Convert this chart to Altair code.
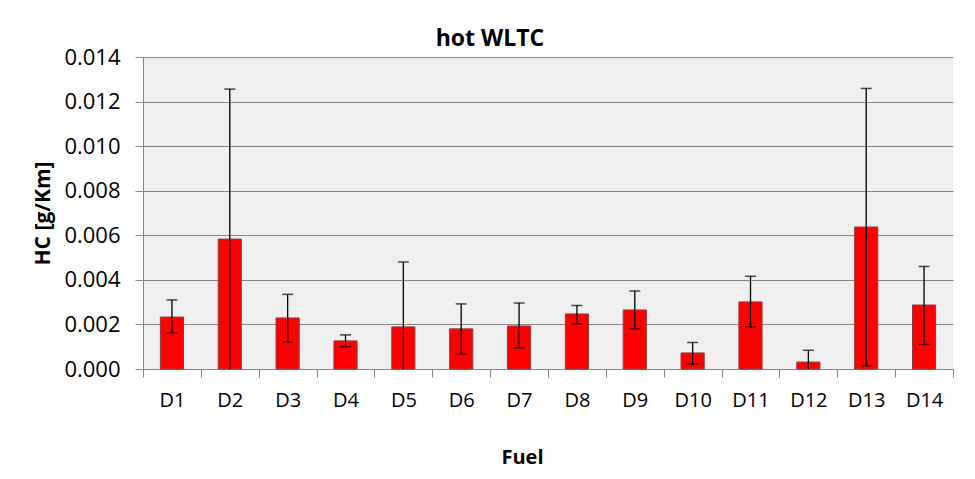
import altair as alt
import pandas as pd

fuels = ["D1", "D2", "D3", "D4", "D5", "D6", "D7", "D8", "D9", "D10", "D11", "D12", "D13", "D14"]
hc = [0.00233, 0.00583, 0.00229, 0.00126, 0.00189, 0.00180, 0.00193,
      0.00247, 0.00265, 0.00072, 0.00301, 0.00031, 0.00637, 0.00287]
err_high = [0.00310, 0.01256, 0.00335, 0.00153, 0.00480, 0.00292, 0.00296,
            0.00285, 0.00350, 0.00119, 0.00416, 0.00084, 0.01259, 0.00460]
err_low = [0.00162, 0.0, 0.00121, 0.00100, 0.0, 0.00067, 0.00094,
           0.00202, 0.00180, 0.00022, 0.00189, 0.0, 0.00014, 0.00110]
y_ticks = [0.0, 0.002, 0.004, 0.006, 0.008, 0.010, 0.012, 0.014]

df = pd.DataFrame({"fuel": fuels, "hc": hc, "hi": err_high, "lo": err_low})

FONT = "Open Sans"
GRAY = "#868686"

x_enc = alt.X(
    "fuel:N",
    sort=fuels,
    scale=alt.Scale(paddingInner=0, paddingOuter=0),
    axis=alt.Axis(
        title="Fuel",
        labelAngle=0,
        labelFont=FONT,
        labelFontSize=20,
        labelColor="black",
        labelBaseline="alphabetic",
        labelPadding=29,
        tickBand="extent",
        tickSize=8,
        tickColor=GRAY,
        domainColor=GRAY,
        grid=False,
        titleFont=FONT,
        titleFontSize=20,
        titleFontWeight="bold",
        titleColor="black",
        titleX=379,
        titleY=94,
        titleBaseline="alphabetic",
        titleAlign="center",
    ),
)

y_scale = alt.Scale(domain=[0, 0.014], nice=False)
y_axis = alt.Axis(
    title="HC [g/Km]",
    values=y_ticks,
    format=".3f",
    labelFont=FONT,
    labelFontSize=22,
    labelColor="black",
    labelPadding=15,
    tickSize=8,
    tickColor=GRAY,
    domainColor=GRAY,
    gridColor=GRAY,
    gridWidth=1,
    titleFont=FONT,
    titleFontSize=21,
    titleFontWeight="bold",
    titleColor="black",
    titleX=-100,
    titleY=156,
    titleBaseline="middle",
    titleAlign="center",
    titleAngle=-90,
)

base = alt.Chart(df)

bars = base.mark_bar(
    color="#FF0000", stroke="#8B3A3A", strokeWidth=1, width={"band": 0.4}
).encode(
    x=x_enc,
    y=alt.Y("hc:Q", scale=y_scale, axis=y_axis),
)

rules = base.mark_rule(color="black", strokeWidth=1.3).encode(
    x=alt.X("fuel:N", sort=fuels),
    y=alt.Y("lo:Q", scale=y_scale),
    y2="hi:Q",
)

cap_hi = base.mark_tick(color="black", thickness=1.5, size=11, orient="horizontal").encode(
    x=alt.X("fuel:N", sort=fuels),
    y=alt.Y("hi:Q", scale=y_scale),
)

cap_lo = base.transform_filter("datum.lo > 0").mark_tick(
    color="black", thickness=1.5, size=11, orient="horizontal"
).encode(
    x=alt.X("fuel:N", sort=fuels),
    y=alt.Y("lo:Q", scale=y_scale),
)

chart = (
    alt.layer(bars, rules, cap_hi, cap_lo)
    .properties(
        width=810,
        height=312,
        title=alt.TitleParams(
            "hot WLTC",
            font=FONT,
            fontSize=23,
            fontWeight="bold",
            color="black",
            anchor="middle",
            baseline="alphabetic",
            offset=13,
            dx=-58,
            dy=36,
        ),
        autosize=alt.AutoSizeParams(type="none"),
        padding={"left": 135, "top": 49, "right": 14, "bottom": 102},
        background="white",
    )
    .configure_view(fill="#EFEFEF", stroke=None)
)

chart.save("out.html", embed_options={"renderer": "svg", "actions": False})
